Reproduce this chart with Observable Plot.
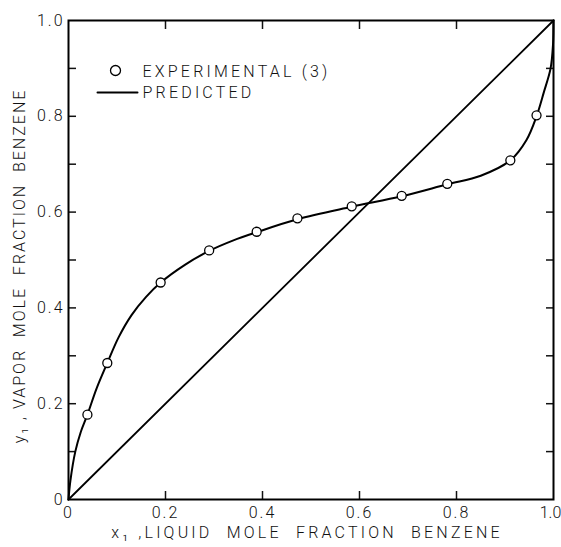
<!DOCTYPE html>
<html><head><meta charset="utf-8">
<script src="https://cdn.jsdelivr.net/npm/d3@7"></script>
<script src="https://cdn.jsdelivr.net/npm/@observablehq/plot@0.6"></script>
<style>
body{margin:0;background:#fff}
#chart svg text{letter-spacing:2px;white-space:pre}
</style>
</head><body><div id="chart"></div>
<script>
// Experimental points (3)
const expX = [0.039, 0.080, 0.190, 0.290, 0.388, 0.472, 0.584, 0.687, 0.781, 0.911, 0.965];
const expY = [0.177, 0.285, 0.453, 0.520, 0.559, 0.587, 0.612, 0.634, 0.659, 0.708, 0.802];
// Predicted curve
const predX = [0, 0.004, 0.014, 0.025, 0.039, 0.058, 0.080, 0.103, 0.130, 0.160, 0.190, 0.240, 0.290, 0.340, 0.388, 0.472, 0.584, 0.687, 0.781, 0.850, 0.911, 0.944, 0.965, 0.980, 0.994, 0.999, 1.0];
const predY = [0, 0.040, 0.100, 0.140, 0.177, 0.232, 0.285, 0.338, 0.385, 0.423, 0.453, 0.490, 0.519, 0.541, 0.558, 0.585, 0.611, 0.633, 0.658, 0.676, 0.708, 0.750, 0.800, 0.850, 0.900, 0.950, 1.0];
// Diagonal y = x
const diagX = [0, 1];
const diagY = [0, 1];
// Ticks
const majorTicks = [0, 0.2, 0.4, 0.6, 0.8, 1.0];
const tickLabels = ["0", "0.2", "0.4", "0.6", "0.8", "1.0"];
const innerMajor = [0.2, 0.4, 0.6, 0.8];
const minorTicks = [0.1, 0.2, 0.3, 0.4, 0.5, 0.6, 0.7, 0.8, 0.9];
// Texts
const xTitle = "x\u2081 ,LIQUID  MOLE  FRACTION  BENZENE";
const yTitle = "y\u2081 , VAPOR  MOLE  FRACTION  BENZENE";
const legendLabels = ["EXPERIMENTAL (3)", "PREDICTED"];

const expData = expX.map((x, i) => ({x, y: expY[i]}));
const predData = predX.map((x, i) => ({x, y: predY[i]}));
const diagData = diagX.map((x, i) => ({x, y: diagY[i]}));
const fmt = d => { const i = majorTicks.findIndex(v => Math.abs(v - d) < 1e-9); return i >= 0 ? tickLabels[i] : ""; };
const none = () => "";
const lineShape = {draw(ctx, l) { ctx.moveTo(0, 0); ctx.lineTo(0, -l); }};

const chart = Plot.plot({
  width: 561, height: 547,
  marginLeft: 68, marginRight: 8, marginTop: 20, marginBottom: 48,
  x: {domain: [0, 1], label: null},
  y: {domain: [0, 1], label: null},
  style: {fontFamily: "Roboto, 'DejaVu Sans', sans-serif", fontWeight: 300, fontSize: "16px", color: "#111", background: "#fff"},
  marks: [
    Plot.axisX({anchor: "bottom", ticks: innerMajor, tickSize: -8, tickFormat: none, label: null, strokeWidth: 1.5}),
    Plot.axisX({anchor: "top", ticks: innerMajor, tickSize: -8, tickFormat: none, label: null, strokeWidth: 1.5}),
    Plot.axisY({anchor: "left", ticks: minorTicks, tickSize: -8, tickFormat: none, label: null, strokeWidth: 1.5}),
    Plot.axisY({anchor: "right", ticks: minorTicks, tickSize: -8, tickFormat: none, label: null, strokeWidth: 1.5}),
    Plot.axisX({anchor: "bottom", ticks: majorTicks, tickSize: 0, tickPadding: 7, tickFormat: fmt, label: null}),
    Plot.axisY({anchor: "left", ticks: majorTicks, tickSize: 0, tickPadding: 4, tickFormat: fmt, label: null}),
    Plot.frame({stroke: "#000", strokeWidth: 2}),
    Plot.line(diagData, {x: "x", y: "y", stroke: "#000", strokeWidth: 1.8}),
    Plot.line(predData, {x: "x", y: "y", curve: "catmull-rom", stroke: "#000", strokeWidth: 2}),
    Plot.dot(expData, {x: "x", y: "y", r: 4.5, fill: "#fff", stroke: "#000", strokeWidth: 1.3}),
    // legend
    Plot.dot([legendLabels[0]], {frameAnchor: "top-left", dx: 47, dy: 50, r: 5, fill: "#fff", stroke: "#000", strokeWidth: 1.3}),
    Plot.vector([legendLabels[1]], {frameAnchor: "top-left", dx: 29, dy: 72, length: 40, rotate: 90, anchor: "start", shape: lineShape, stroke: "#000", strokeWidth: 2}),
    Plot.text([legendLabels[0]], {frameAnchor: "top-left", text: d => d, dx: 74, dy: 51, lineAnchor: "middle", fill: "#111"}),
    Plot.text([legendLabels[1]], {frameAnchor: "top-left", text: d => d, dx: 74, dy: 72, lineAnchor: "middle", fill: "#111"}),
    // axis titles
    Plot.text([xTitle], {frameAnchor: "bottom", text: d => d, dx: -4, dy: 33, lineAnchor: "middle", fill: "#111"}),
    Plot.text([yTitle], {frameAnchor: "left", text: d => d, dx: -49, dy: 6, rotate: -90, lineAnchor: "middle", textAnchor: "middle", fill: "#111"})
  ]
});
const sel = d3.select(chart);
sel.selectAll("text").filter(function() { return this.textContent === xTitle || legendLabels.includes(this.textContent); })
  .style("letter-spacing", "3.2px");
sel.selectAll("g[aria-label='x-axis tick label'] text").filter(function() { return this.textContent === "1.0"; })
  .style("letter-spacing", "0px").attr("dx", "-3");
document.getElementById("chart").appendChild(chart);
</script>
</body></html>
